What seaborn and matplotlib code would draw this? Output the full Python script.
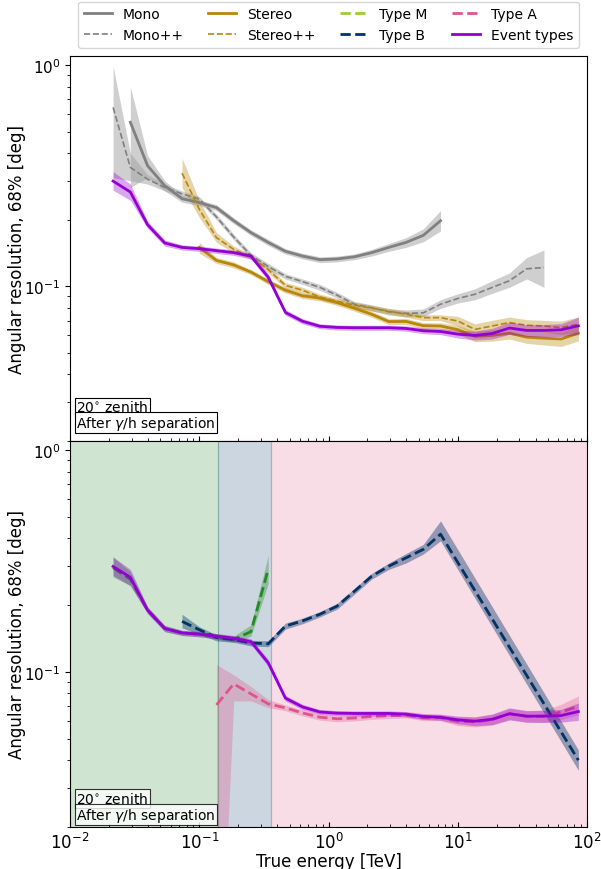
import numpy as np
import matplotlib
matplotlib.use("Agg")
import matplotlib.pyplot as plt
import seaborn as sns
from matplotlib.lines import Line2D

nan = np.nan

# bin centres [TeV]
energy = [0.01166, 0.01585, 0.02154, 0.02929, 0.03981, 0.05412, 0.07356, 0.1, 0.1359, 0.1848,
          0.2512, 0.3415, 0.4642, 0.6310, 0.8577, 1.166, 1.585, 2.154, 2.929, 3.981,
          5.412, 7.356, 10.0, 13.59, 18.48, 25.12, 34.15, 46.42, 63.10, 85.77]

# ---- Event types (both panels)
evt = [nan, nan, 0.299, 0.267, 0.190, 0.157, 0.150, 0.148, 0.145, 0.142,
       0.137, 0.110, 0.0762, 0.0695, 0.0660, 0.0652, 0.0650, 0.0650, 0.0650, 0.0645,
       0.0630, 0.0625, 0.0608, 0.0600, 0.0612, 0.0648, 0.0632, 0.0632, 0.0636, 0.0663]
evt_lo = [nan, nan, 0.272, 0.245, 0.183, 0.152, 0.146, 0.144, 0.141, 0.138,
          0.133, 0.106, 0.0740, 0.0676, 0.0643, 0.0635, 0.0633, 0.0633, 0.0633, 0.0627,
          0.0611, 0.0605, 0.0584, 0.0572, 0.0578, 0.0607, 0.0594, 0.0592, 0.0594, 0.0605]
evt_hi = [nan, nan, 0.330, 0.290, 0.197, 0.162, 0.154, 0.152, 0.149, 0.146,
          0.141, 0.114, 0.0784, 0.0714, 0.0677, 0.0669, 0.0667, 0.0667, 0.0667, 0.0663,
          0.0649, 0.0645, 0.0632, 0.0628, 0.0646, 0.0689, 0.0670, 0.0672, 0.0678, 0.0725]

# ---- Mono
mono = [nan, nan, nan, 0.552, 0.351, 0.285, 0.249, 0.239, 0.227, 0.198,
        0.175, 0.158, 0.144, 0.137, 0.132, 0.133, 0.136, 0.142, 0.150, 0.158,
        0.170, 0.198, nan, nan, nan, nan, nan, nan, nan, nan]
mono_lo = [nan, nan, nan, 0.280, 0.310, 0.270, 0.240, 0.232, 0.220, 0.192,
           0.170, 0.153, 0.140, 0.133, 0.128, 0.129, 0.132, 0.137, 0.144, 0.150,
           0.159, 0.178, nan, nan, nan, nan, nan, nan, nan, nan]
mono_hi = [nan, nan, nan, 0.800, 0.390, 0.300, 0.258, 0.246, 0.234, 0.204,
           0.180, 0.163, 0.148, 0.141, 0.136, 0.137, 0.140, 0.147, 0.156, 0.166,
           0.182, 0.220, nan, nan, nan, nan, nan, nan, nan, nan]

# ---- Mono++
monopp = [nan, nan, 0.644, 0.345, 0.305, 0.280, 0.262, 0.248, 0.206, 0.167,
          0.138, 0.123, 0.111, 0.105, 0.0989, 0.0912, 0.0830, 0.0800, 0.0767, 0.0755,
          0.0759, 0.0830, 0.0881, 0.0921, 0.0989, 0.106, 0.120, 0.1217, nan, nan]
monopp_lo = [nan, nan, 0.310, 0.300, 0.290, 0.270, 0.254, 0.241, 0.200, 0.162,
             0.134, 0.119, 0.108, 0.102, 0.0960, 0.0885, 0.0805, 0.0775, 0.0742, 0.0728,
             0.0730, 0.0795, 0.0840, 0.0870, 0.0930, 0.0990, 0.1080, 0.0990, nan, nan]
monopp_hi = [nan, nan, 0.990, 0.400, 0.320, 0.290, 0.270, 0.255, 0.212, 0.172,
             0.142, 0.127, 0.114, 0.108, 0.1020, 0.0940, 0.0855, 0.0825, 0.0792, 0.0782,
             0.0790, 0.0870, 0.0925, 0.0975, 0.1060, 0.1150, 0.1350, 0.1460, nan, nan]

# ---- Stereo
stereo = [nan, nan, nan, nan, nan, nan, nan, 0.150, 0.131, 0.125,
          0.116, 0.105, 0.0961, 0.0906, 0.0885, 0.0845, 0.0796, 0.0748, 0.0693, 0.0694,
          0.0664, 0.0662, 0.0637, 0.0594, 0.0600, 0.0614, 0.0589, 0.0583, 0.0578, 0.0614]
stereo_lo = [nan, nan, nan, nan, nan, nan, nan, 0.141, 0.127, 0.121,
             0.113, 0.102, 0.0933, 0.0880, 0.0860, 0.0820, 0.0772, 0.0725, 0.0672, 0.0672,
             0.0643, 0.0640, 0.0608, 0.0562, 0.0565, 0.0578, 0.0552, 0.0543, 0.0535, 0.0566]
stereo_hi = [nan, nan, nan, nan, nan, nan, nan, 0.158, 0.135, 0.129,
             0.119, 0.108, 0.0989, 0.0932, 0.0910, 0.0870, 0.0820, 0.0771, 0.0714, 0.0716,
             0.0685, 0.0684, 0.0666, 0.0626, 0.0635, 0.0650, 0.0626, 0.0623, 0.0621, 0.0662]

# ---- Stereo++
stereopp = [nan, nan, nan, nan, nan, nan, 0.325, 0.223, 0.166, 0.147,
            0.136, 0.119, 0.101, 0.096, 0.0895, 0.0857, 0.0822, 0.0797, 0.0772, 0.0748,
            0.0722, 0.0722, 0.0697, 0.0639, 0.0662, 0.0686, 0.0667, 0.0662, 0.0651, 0.0674]
stereopp_lo = [nan, nan, nan, nan, nan, nan, 0.280, 0.205, 0.158, 0.142,
               0.132, 0.115, 0.098, 0.093, 0.0868, 0.0831, 0.0797, 0.0773, 0.0749, 0.0726,
               0.0700, 0.0700, 0.0662, 0.0601, 0.0622, 0.0645, 0.0627, 0.0622, 0.0606, 0.0620]
stereopp_hi = [nan, nan, nan, nan, nan, nan, 0.380, 0.245, 0.175, 0.152,
               0.140, 0.123, 0.104, 0.099, 0.0922, 0.0883, 0.0847, 0.0821, 0.0795, 0.0770,
               0.0744, 0.0744, 0.0732, 0.0677, 0.0702, 0.0727, 0.0707, 0.0702, 0.0696, 0.0728]

# ---- Type M
typem = [nan, nan, 0.295, 0.262, 0.190, 0.157, 0.150, 0.148, 0.145, 0.140,
         0.152, 0.290, nan, nan, nan, nan, nan, nan, nan, nan,
         nan, nan, nan, nan, nan, nan, nan, nan, nan, nan]
typem_lo = [nan, nan, 0.268, 0.245, 0.184, 0.152, 0.146, 0.144, 0.141, 0.136,
            0.145, 0.250, nan, nan, nan, nan, nan, nan, nan, nan,
            nan, nan, nan, nan, nan, nan, nan, nan, nan, nan]
typem_hi = [nan, nan, 0.330, 0.283, 0.196, 0.162, 0.154, 0.152, 0.149, 0.145,
            0.163, 0.335, nan, nan, nan, nan, nan, nan, nan, nan,
            nan, nan, nan, nan, nan, nan, nan, nan, nan, nan]

# ---- Type B
typeb = [nan, nan, nan, nan, nan, nan, 0.169, 0.155, 0.143, 0.140,
         0.135, 0.134, 0.161, 0.170, 0.182, 0.198, 0.231, 0.270, 0.300, 0.327,
         0.357, 0.418, nan, nan, nan, nan, nan, nan, nan, 0.0400]
typeb_lo = [nan, nan, nan, nan, nan, nan, 0.158, 0.148, 0.138, 0.136,
            0.131, 0.130, 0.156, 0.165, 0.177, 0.192, 0.224, 0.262, 0.290, 0.310,
            0.340, 0.390, nan, nan, nan, nan, nan, nan, nan, 0.0360]
typeb_hi = [nan, nan, nan, nan, nan, nan, 0.182, 0.160, 0.147, 0.144,
            0.139, 0.138, 0.166, 0.175, 0.187, 0.204, 0.238, 0.278, 0.310, 0.342,
            0.376, 0.480, nan, nan, nan, nan, nan, nan, nan, 0.0445]

# ---- Type A
typea = [nan, nan, nan, nan, nan, nan, nan, nan, 0.071, 0.0883,
         0.0796, 0.0718, 0.0689, 0.0653, 0.0625, 0.0615, 0.0620, 0.0630, 0.0635, 0.0640,
         0.0622, 0.0622, 0.0600, 0.0595, 0.0610, 0.0648, 0.0630, 0.0632, 0.0660, 0.0700]
typea_lo = [nan, nan, nan, nan, nan, nan, nan, nan, 0.0015, 0.074,
            0.074, 0.069, 0.0668, 0.0633, 0.0606, 0.0596, 0.0601, 0.0611, 0.0616, 0.0621,
            0.0603, 0.0603, 0.0573, 0.0565, 0.0576, 0.0612, 0.0593, 0.0592, 0.0610, 0.0640]
typea_hi = [nan, nan, nan, nan, nan, nan, nan, nan, 0.108, 0.097,
            0.086, 0.075, 0.0710, 0.0673, 0.0644, 0.0634, 0.0639, 0.0649, 0.0654, 0.0659,
            0.0641, 0.0641, 0.0627, 0.0625, 0.0644, 0.0684, 0.0667, 0.0672, 0.0715, 0.0780]

# region boundaries [TeV]
region_edges = [0.01, 0.14, 0.36, 100]

C_MONO = "#808080"
C_STEREO = "#b8860b"
C_M_LEG = "#9acd32"
C_M = "#228b22"
C_B = "#003366"
C_A = "#e0548a"
C_EVT = "#9400d3"


def sel(*arrs):
    e = np.asarray(energy)
    a = [np.asarray(x, dtype=float) for x in arrs]
    m = ~np.isnan(a[0])
    return [e[m]] + [x[m] for x in a]


def draw(ax, y, lo, hi, color, band_color, band_alpha, lw, ls, z=3):
    x, yy, l, h = sel(y, lo, hi)
    ax.fill_between(x, l, h, color=band_color, alpha=band_alpha, lw=0, zorder=z - 1)
    sns.lineplot(x=x, y=yy, ax=ax, color=color, lw=lw, linestyle=ls,
                 errorbar=None, sort=True, zorder=z)


fig = plt.figure(figsize=(6.01, 8.70), dpi=100)
ax1 = fig.add_axes([0.1165, 0.4920, 0.8602, 0.4425])
ax2 = fig.add_axes([0.1165, 0.0483, 0.8602, 0.4437], sharex=ax1)

for ax in (ax1, ax2):
    ax.set_xscale("log")
    ax.set_yscale("log")

# ---------------- top panel
draw(ax1, mono, mono_lo, mono_hi, C_MONO, "#a0a0a0", 0.5, 2.0, "-")
draw(ax1, monopp, monopp_lo, monopp_hi, C_MONO, "#a0a0a0", 0.5, 1.2, "--")
draw(ax1, stereo, stereo_lo, stereo_hi, C_STEREO, C_STEREO, 0.35, 2.0, "-")
draw(ax1, stereopp, stereopp_lo, stereopp_hi, C_STEREO, C_STEREO, 0.35, 1.2, "--")
draw(ax1, evt, evt_lo, evt_hi, C_EVT, C_EVT, 0.35, 2.0, "-", z=5)

# ---------------- bottom panel
span_cols = [("#147d19", 0.2), (C_B, 0.2), ("#dc5082", 0.2)]
for i, (c, a) in enumerate(span_cols):
    ax2.axvspan(region_edges[i], region_edges[i + 1], color=c, alpha=a, zorder=0, lw=0.8)

draw(ax2, typem, typem_lo, typem_hi, C_M, C_M, 0.35, 2.0, "--")
draw(ax2, typeb, typeb_lo, typeb_hi, C_B, C_B, 0.4, 2.0, "--", z=4)
draw(ax2, typea, typea_lo, typea_hi, C_A, C_A, 0.3, 2.0, "--")
draw(ax2, evt, evt_lo, evt_hi, C_EVT, C_EVT, 0.35, 2.0, "-", z=5)

for ax in (ax1, ax2):
    ax.set_xlim(0.01, 100)
    ax.set_ylim(0.02, 1.1)
    ax.set_xlabel("")
    ax.set_ylabel("Angular resolution, 68% [deg]", fontsize=12)
    ax.yaxis.set_label_coords(-0.086, 0.5)
    ax.tick_params(axis="x", which="both", direction="in", labelsize=12)
    ax.tick_params(axis="y", which="major", labelsize=11)

plt.setp(ax1.get_xticklabels(), visible=False)
ax2.set_xlabel("True energy [TeV]", fontsize=12)
ax2.xaxis.set_label_coords(0.5, -0.066)

# annotation boxes
ax1.text(0.012, 0.069, r"20$^{\circ}$ zenith", transform=ax1.transAxes, fontsize=10,
         va="bottom", ha="left",
         bbox=dict(boxstyle="square,pad=0.12", fc="white", ec="black", lw=0.8))
ax1.text(0.012, 0.024, r"After $\gamma$/h separation", transform=ax1.transAxes, fontsize=10,
         va="bottom", ha="left",
         bbox=dict(boxstyle="square,pad=0.12", fc="white", ec="black", lw=0.8))
ax2.text(0.012, 0.054, r"20$^{\circ}$ zenith", transform=ax2.transAxes, fontsize=10,
         va="bottom", ha="left",
         bbox=dict(boxstyle="square,pad=0.12", fc="white", ec="black", lw=0.8, alpha=0.8))
ax2.text(0.012, 0.009, r"After $\gamma$/h separation", transform=ax2.transAxes, fontsize=10,
         va="bottom", ha="left",
         bbox=dict(boxstyle="square,pad=0.12", fc="white", ec="black", lw=0.8, alpha=0.8))

handles = [
    Line2D([], [], color=C_MONO, lw=2.0, ls="-", label="Mono"),
    Line2D([], [], color=C_MONO, lw=1.2, ls="--", label="Mono++"),
    Line2D([], [], color=C_STEREO, lw=2.0, ls="-", label="Stereo"),
    Line2D([], [], color=C_STEREO, lw=1.2, ls="--", label="Stereo++"),
    Line2D([], [], color=C_M_LEG, lw=2.0, ls="--", label="Type M"),
    Line2D([], [], color=C_B, lw=2.0, ls="--", label="Type B"),
    Line2D([], [], color=C_A, lw=2.0, ls="--", label="Type A"),
    Line2D([], [], color=C_EVT, lw=2.0, ls="-", label="Event types"),
]
ax1.legend(handles=handles, loc="lower left", bbox_to_anchor=(0.0, 1.0, 1.0, 0.1),
           mode="expand", ncol=4, fontsize=10, borderaxespad=0.6, frameon=True)

fig.savefig("out.png", dpi=100, facecolor="white")
